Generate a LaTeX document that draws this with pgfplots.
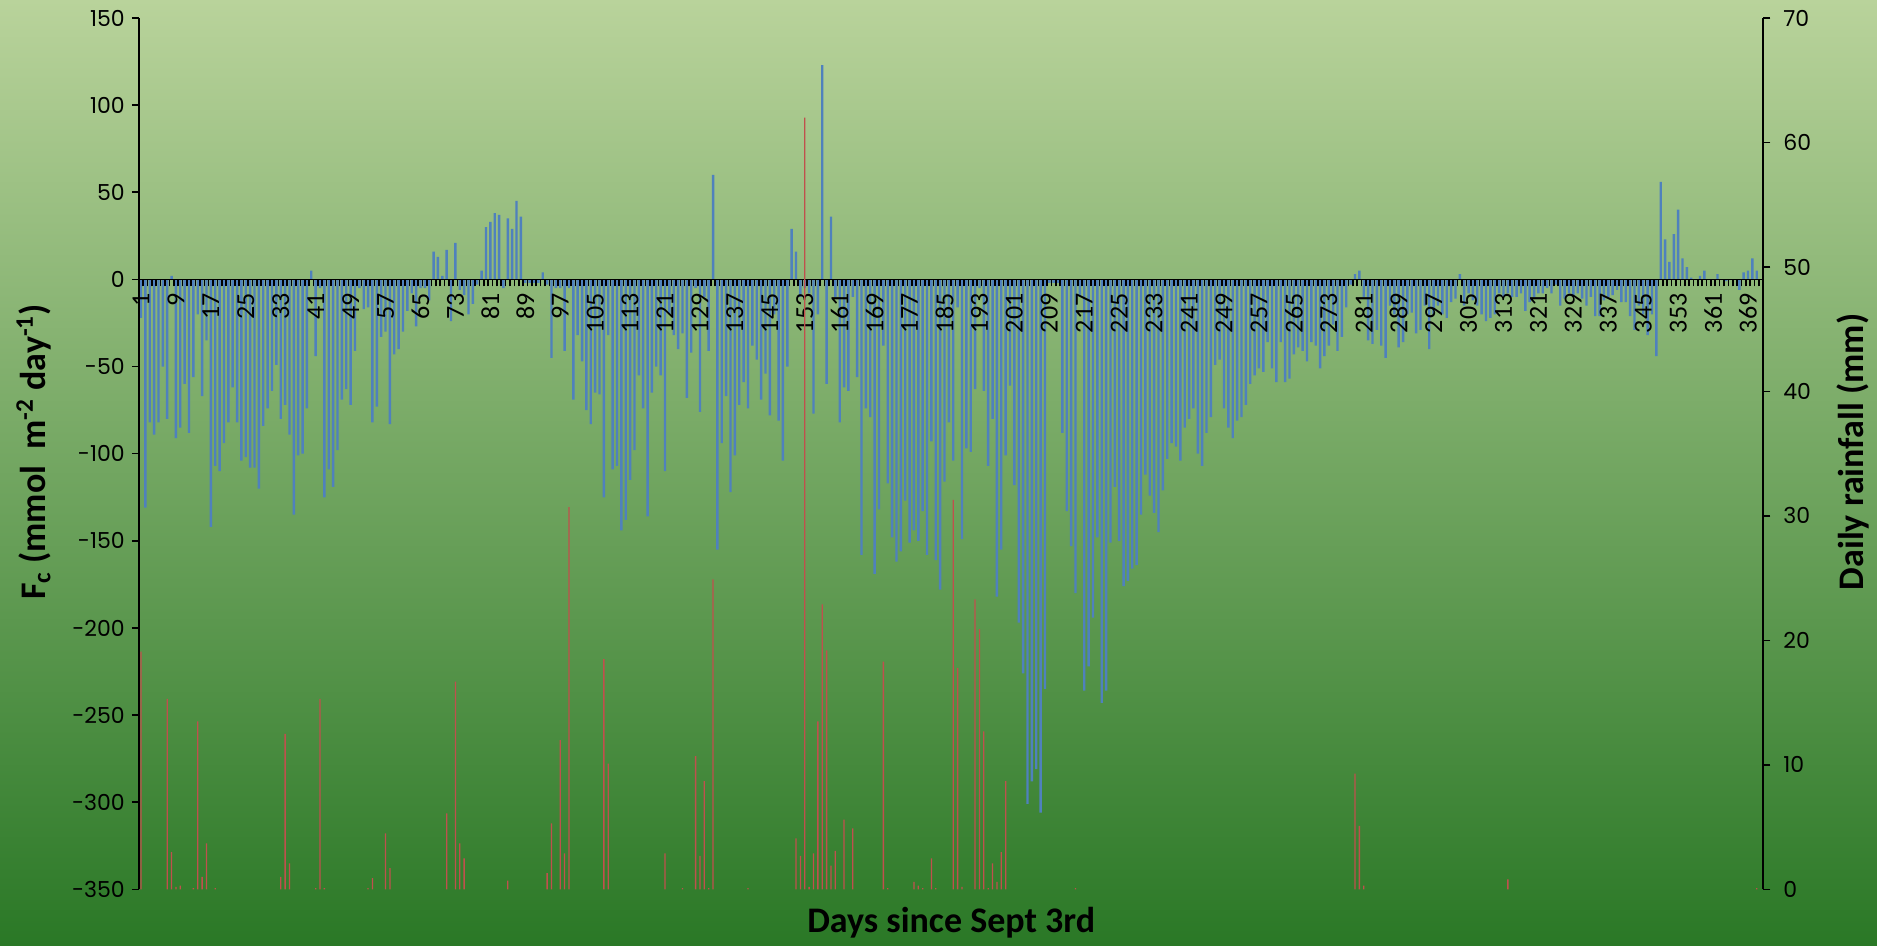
\documentclass[border=0pt]{standalone}
\usepackage{fontspec}
\setmainfont{Poppins}
\newfontfamily\carlito{Carlito}
\usepackage{pgfplots}
\pgfplotsset{compat=1.18}
\definecolor{bgtop}{HTML}{B9D39B}
\definecolor{bgbot}{HTML}{2A7826}
\definecolor{fcblue}{HTML}{4F81BD}
\definecolor{rainred}{HTML}{C0504D}
\begin{document}
\begin{tikzpicture}
\shade[use as bounding box, top color=bgtop, bottom color=bgbot] (0,0) rectangle (938.5pt,473pt);
\begin{axis}[
  at={(69.4pt,28.3pt)}, anchor=south west, scale only axis,
  width=812.25pt, height=435.7pt,
  xmin=0.5, xmax=372.5, ymin=-350, ymax=150,
  axis y line*=left, axis x line*=middle,
  every outer x axis line/.append style={-}, every inner x axis line/.append style={-},
  every outer y axis line/.append style={-}, every inner y axis line/.append style={-},
  x axis line style={line width=0.6pt, black},
  y axis line style={line width=1pt, black},
  tick align=outside,
  major tick length=3.5pt,
  tick style={black, line width=0.8pt},
  ytick={-350,-300,...,150},
  xtick={0.5,1.5,...,372.5}, xticklabels={},
  extra x ticks={1,9,...,369},
  extra x tick labels={1,9,17,25,33,41,49,57,65,73,81,89,97,105,113,121,129,137,145,153,161,169,177,185,193,201,209,217,225,233,241,249,257,265,273,281,289,297,305,313,321,329,337,345,353,361,369},
  extra x tick style={tick style={draw=none}},
  xticklabel style={rotate=90, anchor=east, font=\carlito\fontsize{13}{13}\selectfont},
  yticklabel style={font=\fontsize{11}{11}\selectfont},
  /pgf/number format/assume math mode=true,
  axis on top,
  ybar, bar width=0.55,
]
\addplot[fill=fcblue, draw=none] coordinates {
(1,-22)(2,-131)(3,-82)(4,-89)(5,-82)(6,-50)(7,-80)(8,2)(9,-91)(10,-85)
(11,-60)(12,-88)(13,-56)(14,-20)(15,-67)(16,-35)(17,-142)(18,-107)(19,-110)(20,-94)
(21,-82)(22,-62)(23,-82)(24,-104)(25,-102)(26,-108)(27,-108)(28,-120)(29,-84)(30,-74)
(31,-64)(32,-49)(33,-80)(34,-72)(35,-89)(36,-135)(37,-101)(38,-100)(39,-74)(40,5)
(41,-44)(42,-5)(43,-125)(44,-109)(45,-119)(46,-98)(47,-69)(48,-63)(49,-72)(50,-41)
(51,-5)(52,-17)(53,-16)(54,-82)(55,-73)(56,-33)(57,-30)(58,-83)(59,-43)(60,-40)
(61,-30)(62,-18)(63,-8)(64,-27)(65,-5)(66,-5)(67,-12)(68,16)(69,13)(70,2)
(71,17)(72,-24)(73,21)(74,-6)(75,-9)(76,-20)(77,-14)(78,-3)(79,5)(80,30)
(81,33)(82,38)(83,37)(84,-5)(85,35)(86,29)(87,45)(88,36)(89,-2)(90,-2)
(91,-2)(92,-2)(93,4)(94,-3)(95,-45)(96,-5)(97,-5)(98,-41)(99,-5)(100,-69)
(101,-32)(102,-47)(103,-75)(104,-83)(105,-65)(106,-66)(107,-125)(108,-32)(109,-109)(110,-107)
(111,-144)(112,-138)(113,-115)(114,-98)(115,-55)(116,-74)(117,-136)(118,-65)(119,-50)(120,-55)
(121,-110)(122,-20)(123,-32)(124,-40)(125,-31)(126,-68)(127,-42)(128,-5)(129,-76)(130,-10)
(131,-41)(132,60)(133,-155)(134,-94)(135,-67)(136,-122)(137,-101)(138,-72)(139,-59)(140,-74)
(141,-38)(142,-46)(143,-69)(144,-54)(145,-78)(146,-20)(147,-81)(148,-104)(149,-50)(150,29)
(151,16)(152,-10)(153,-5)(154,-8)(155,-77)(156,-20)(157,123)(158,-60)(159,36)(160,-10)
(161,-82)(162,-62)(163,-64)(164,-10)(165,-56)(166,-158)(167,-74)(168,-79)(169,-169)(170,-132)
(171,-38)(172,-117)(173,-148)(174,-162)(175,-156)(176,-127)(177,-151)(178,-144)(179,-150)(180,-133)
(181,-158)(182,-93)(183,-161)(184,-178)(185,-116)(186,-82)(187,-104)(188,-16)(189,-149)(190,-97)
(191,-99)(192,-63)(193,-5)(194,-64)(195,-107)(196,-80)(197,-182)(198,-155)(199,-101)(200,-61)
(201,-118)(202,-197)(203,-226)(204,-301)(205,-288)(206,-281)(207,-306)(208,-235)(209,-2)(210,-2)
(211,-2)(212,-88)(213,-133)(214,-153)(215,-180)(216,-10)(217,-236)(218,-222)(219,-194)(220,-148)
(221,-243)(222,-236)(223,-151)(224,-119)(225,-150)(226,-176)(227,-173)(228,-166)(229,-164)(230,-135)
(231,-112)(232,-124)(233,-134)(234,-145)(235,-121)(236,-103)(237,-94)(238,-96)(239,-104)(240,-85)
(241,-80)(242,-74)(243,-100)(244,-107)(245,-88)(246,-79)(247,-49)(248,-46)(249,-74)(250,-85)
(251,-91)(252,-81)(253,-79)(254,-72)(255,-60)(256,-55)(257,-51)(258,-53)(259,-36)(260,-51)
(261,-59)(262,-36)(263,-59)(264,-57)(265,-43)(266,-39)(267,-41)(268,-47)(269,-36)(270,-38)
(271,-51)(272,-44)(273,-38)(274,-26)(275,-41)(276,-33)(277,-16)(278,-3)(279,3)(280,5)
(281,-10)(282,-35)(283,-37)(284,-29)(285,-38)(286,-45)(287,-15)(288,-20)(289,-39)(290,-36)
(291,-20)(292,-19)(293,-31)(294,-29)(295,-15)(296,-40)(297,-20)(298,-15)(299,-20)(300,-22)
(301,-13)(302,-11)(303,3)(304,-15)(305,-8)(306,-12)(307,-15)(308,-20)(309,-24)(310,-22)
(311,-20)(312,-8)(313,-10)(314,-8)(315,-10)(316,-10)(317,-8)(318,-18)(319,-13)(320,-10)
(321,-8)(322,-8)(323,-5)(324,-8)(325,-3)(326,-15)(327,-11)(328,-8)(329,-10)(330,-8)
(331,-11)(332,-15)(333,-10)(334,-21)(335,-21)(336,-12)(337,-10)(338,-9)(339,-6)(340,-13)
(341,-13)(342,-21)(343,-29)(344,-15)(345,-20)(346,-32)(347,-20)(348,-44)(349,56)(350,23)
(351,10)(352,26)(353,40)(354,12)(355,7)(356,1)(357,0)(358,2)(359,5)(360,0)
(361,0)(362,3)(363,0)(364,-1)(365,0)(366,0)(367,-6)(368,4)(369,5)(370,12)
(371,5)(372,0)
};
\end{axis}
\begin{axis}[
  at={(69.4pt,28.3pt)}, anchor=south west, scale only axis,
  width=812.25pt, height=435.7pt,
  xmin=0.5, xmax=372.5, ymin=0, ymax=70,
  axis y line*=right, axis x line=none,
  every outer y axis line/.append style={-}, every inner y axis line/.append style={-},
  y axis line style={line width=1pt, black},
  tick align=outside,
  major tick length=3.5pt,
  tick style={black, line width=0.8pt},
  ytick={0,10,...,70},
  yticklabel style={font=\fontsize{11}{11}\selectfont, xshift=3pt},
  /pgf/number format/assume math mode=true,
  ybar, bar width=0.3,
]
\addplot[fill=rainred, draw=none] coordinates {
(1,19.1)(7,15.3)(8,3.0)(9,0.2)(10,0.3)(13,0.1)(14,13.5)(15,1.0)(16,3.7)(18,0.1)
(33,1.0)(34,12.5)(35,2.1)(41,0.1)(42,15.3)(43,0.1)(53,0.1)(54,0.9)(57,4.5)(58,1.7)
(71,6.1)(73,16.7)(74,3.7)(75,2.5)(85,0.7)(94,1.3)(95,5.3)(97,12.0)(98,2.9)(99,30.7)
(107,18.5)(108,10.1)(121,2.9)(125,0.1)(128,10.7)(129,2.7)(130,8.7)(131,0.1)(132,24.9)(140,0.1)
(151,4.1)(152,2.7)(153,62.0)(154,0.2)(155,2.9)(156,13.5)(157,22.9)(158,19.2)(159,1.9)(160,3.1)
(162,5.6)(164,4.9)(171,18.3)(172,0.1)(178,0.6)(179,0.3)(180,0.1)(182,2.5)(183,0.1)
(187,31.3)(188,17.8)(189,0.2)(192,23.3)(193,20.9)(194,12.7)(195,0.1)(196,2.1)(197,0.6)(198,3.0)(199,8.7)
(215,0.1)(279,9.3)(280,5.1)(281,0.3)(314,0.8)(371,0.1)
};
\end{axis}
\node[rotate=90, font=\carlito\bfseries\fontsize{18}{18}\selectfont] at (16.8pt,247pt) {F\textsubscript{c} (mmol~ m\textsuperscript{-2} day\textsuperscript{-1})};
\node[rotate=90, font=\carlito\bfseries\fontsize{18}{18}\selectfont] at (926.5pt,247pt) {Daily rainfall (mm)};
\node[font=\carlito\bfseries\fontsize{18}{18}\selectfont] at (475.6pt,11.5pt) {Days since Sept 3rd};
\end{tikzpicture}
\end{document}
